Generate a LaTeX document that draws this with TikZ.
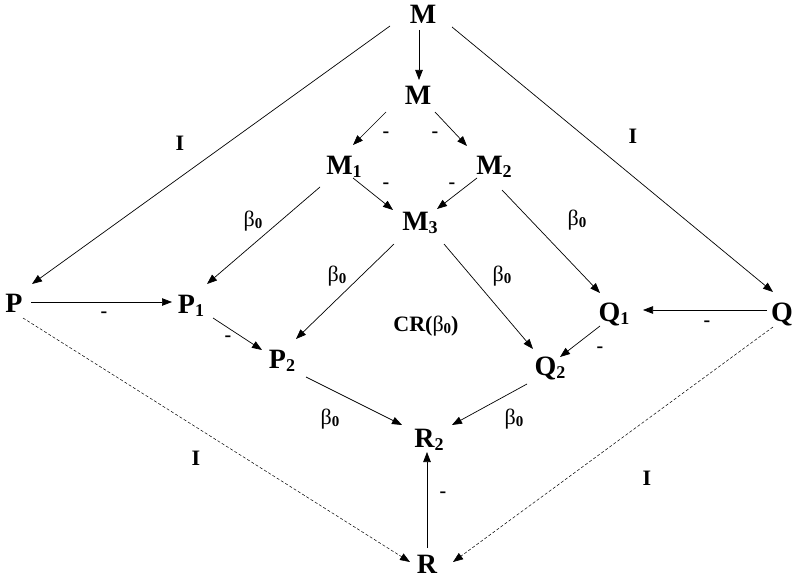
\documentclass[tikz,border=0pt]{standalone}
\usepackage{fontspec}
\setmainfont{Liberation Serif}
\usetikzlibrary{arrows.meta}
\newcommand\sbs[1]{\raisebox{-3pt}{\fontsize{18}{18}\selectfont #1}}
\newcommand\lsb[1]{\raisebox{-2.5pt}{\fontsize{15}{15}\selectfont\bfseries #1}}
\newcommand\bz{{\fontseries{m}\selectfont β}\lsb{0}}
\begin{document}
\begin{tikzpicture}[x=1pt,y=-1pt,
 v/.style={font=\fontsize{28}{32}\bfseries\selectfont, inner sep=4pt, anchor=base},
 lab/.style={font=\fontsize{22}{26}\bfseries\selectfont, inner sep=0pt},
 dl/.style={font=\fontsize{20}{24}\bfseries\selectfont, inner sep=0pt},
 ar/.style={-{Triangle[length=10pt,width=7.5pt]}, line width=0.7pt},
 da/.style={ar, dash pattern=on 3pt off 2pt, line width=0.5pt}]
\useasboundingbox (0,0) rectangle (793,578);
% vertices (baseline positions)
\node[v] (Mt) at (423,24) {M};
\node[v] (Mm) at (418,105) {M};
\node[v] (M1) at (344,174) {M\sbs{1}};
\node[v] (M2) at (494,174) {M\sbs{2}};
\node[v] (M3) at (420,230) {M\sbs{3}};
\node[v] (P) at (14,312) {P};
\node[v] (P1) at (191,313) {P\sbs{1}};
\node[v] (P2) at (282,368) {P\sbs{2}};
\node[v] (Q1) at (614,321) {Q\sbs{1}};
\node[v] (Q) at (782,321) {Q};
\node[v] (Q2) at (550,375) {Q\sbs{2}};
\node[v] (R2) at (429,447) {R\sbs{2}};
\node[v] (R) at (427,573) {R};
% edges
\draw[ar] ([shift={(-4,6)}]Mt.base) -- ([shift={(1,-25)}]Mm.base);
\draw[ar] ([shift={(-33,2)}]Mt.base) -- ([shift={(18,-28)}]P.base);
\draw[ar] ([shift={(29,3)}]Mt.base) -- ([shift={(-9,-29)}]Q.base);
\draw[ar] ([shift={(-32,7)}]Mm.base) -- ([shift={(9,-29)}]M1.base);
\draw[ar] ([shift={(17,7)}]Mm.base) -- ([shift={(-27,-28)}]M2.base);
\draw[ar] ([shift={(9,4)}]M1.base) -- ([shift={(-27,-20)}]M3.base);
\draw[ar] ([shift={(-17,4)}]M2.base) -- ([shift={(17,-21)}]M3.base);
\draw[ar] ([shift={(-24,13)}]M1.base) -- ([shift={(16,-29)}]P1.base);
\draw[ar] ([shift={(-26,14)}]M3.base) -- ([shift={(14,-29)}]P2.base);
\draw[ar] ([shift={(24,14)}]M3.base) -- ([shift={(-17,-26)}]Q2.base);
\draw[ar] ([shift={(8,16)}]M2.base) -- ([shift={(-14,-28)}]Q1.base);
\draw[ar] ([shift={(17,-10)}]P.base) -- ([shift={(-19,-11)}]P1.base);
\draw[ar] ([shift={(22,5)}]P1.base) -- ([shift={(-20,-18)}]P2.base);
\draw[ar] ([shift={(-15,-11)}]Q.base) -- ([shift={(29,-11)}]Q1.base);
\draw[ar] ([shift={(-14,5)}]Q1.base) -- ([shift={(10,-18)}]Q2.base);
\draw[ar] ([shift={(24,9)}]P2.base) -- ([shift={(-27,-22)}]R2.base);
\draw[ar] ([shift={(-23,9)}]Q2.base) -- ([shift={(23,-22)}]R2.base);
\draw[ar] ([shift={(0,-25)}]R.base) -- ([shift={(-2,5)}]R2.base);
\draw[da] ([shift={(9,6)}]P.base) -- ([shift={(-17,-11)}]R.base);
\draw[da] ([shift={(-9,6)}]Q.base) -- ([shift={(26,-11)}]R.base);
% labels
\node[lab] (i1) at (180,143) {I};
\node[lab] (i2) at (633,136) {I};
\node[lab] (i3) at (196,458) {I};
\node[lab] (i4) at (647,478) {I};
\node[dl] (d1) at (386,135) {-};
\node[dl] (d2) at (435,135) {-};
\node[dl] (d3) at (386,186) {-};
\node[dl] (d4) at (452,186) {-};
\node[dl] (d5) at (104,315) {-};
\node[dl] (d6) at (228,339) {-};
\node[dl] (d7) at (707,324) {-};
\node[dl] (d8) at (600,350) {-};
\node[dl] (d9) at (443,495) {-};
\node[lab] (b1) at (253,221) {\bz};
\node[lab] (b2) at (337,276) {\bz};
\node[lab] (b3) at (502,276) {\bz};
\node[lab] (b4) at (577,220) {\bz};
\node[lab] (b5) at (330,419) {\bz};
\node[lab] (b6) at (514,419) {\bz};
\node[lab] (cr) at (426,326) {CR({\fontseries{m}\selectfont β}\lsb{0})};
\end{tikzpicture}
\end{document}
